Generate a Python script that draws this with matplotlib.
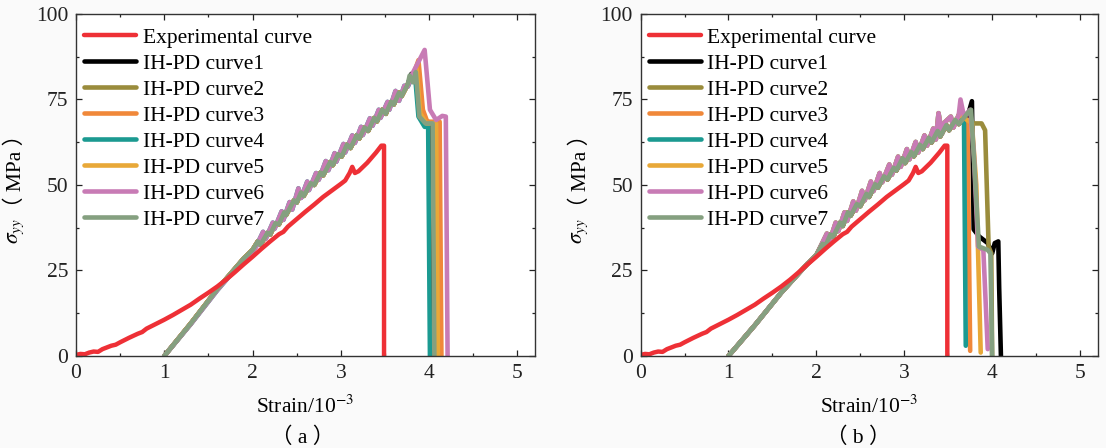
import numpy as np
import matplotlib
matplotlib.use('Agg')
import matplotlib.pyplot as plt
from matplotlib.ticker import MultipleLocator

plt.rcParams['font.family'] = ['Liberation Serif', 'Noto Sans CJK TC']
plt.rcParams['mathtext.fontset'] = 'stix'

# experimental curve (same test in both panels)
exp_s = [0, 0.05, 0.1, 0.15, 0.2, 0.25, 0.3, 0.4, 0.45, 0.5, 0.6, 0.7, 0.75, 0.8, 0.9, 1.0, 1.1, 1.2,
         1.3, 1.4, 1.5, 1.6, 1.7, 1.8, 1.9, 2.0, 2.1, 2.2, 2.3, 2.35, 2.4, 2.5, 2.6, 2.7,
         2.8, 2.9, 3.0, 3.05, 3.1, 3.13, 3.16, 3.2, 3.3, 3.4, 3.46, 3.49, 3.49]
exp_v = [0.3, 0.6, 0.5, 1.0, 1.3, 1.2, 2.0, 3.0, 3.3, 4.0, 5.3, 6.5, 7.0, 8.0, 9.3, 10.6, 12.0, 13.5,
         15.0, 16.8, 18.5, 20.3, 22.3, 24.5, 26.8, 29.0, 31.3, 33.5, 35.6, 36.3, 37.8, 40.0, 42.2, 44.3,
         46.5, 48.4, 50.3, 51.3, 53.5, 55.3, 53.5, 54.0, 56.5, 59.5, 61.5, 61.5, 0]

# IH-PD loading branches, panel (a)
rise_a_s = [1.0, 1.3, 1.6, 1.9, 2.0, 2.06, 2.09, 2.17, 2.20, 2.26, 2.30, 2.36, 2.38, 2.47, 2.50,
            2.55, 2.58, 2.66, 2.70, 2.77, 2.80, 2.88, 2.91, 2.97, 3.01, 3.07, 3.11, 3.18, 3.21,
            3.27, 3.31, 3.38, 3.41, 3.47, 3.51, 3.57, 3.60, 3.66, 3.69, 3.76]
rise_a_v = [0, 9.5, 19.5, 28.5, 31, 33.5, 32.5, 36, 35.5, 38.8, 38.5, 42, 41.2, 45.5, 44.8,
            47.8, 46.8, 50.5, 50, 53.6, 52.8, 56.7, 55.8, 59, 58.3, 61.8, 60.8, 64.5, 63.6,
            66.8, 65.8, 69.6, 68.6, 72, 70.8, 74.3, 73.5, 77, 76, 79.5]
rise_a2_s = [1.0, 1.3, 1.6, 1.9, 2.0, 2.04, 2.12, 2.15, 2.23, 2.25, 2.33, 2.35, 2.42, 2.45, 2.52,
             2.55, 2.62, 2.64, 2.72, 2.75, 2.83, 2.86, 2.93, 2.95, 3.03, 3.05, 3.13, 3.16, 3.23,
             3.25, 3.33, 3.36, 3.43, 3.45, 3.53, 3.55, 3.62, 3.66, 3.72, 3.76]
rise_a2_v = [0, 9.3, 19.2, 28.2, 30.6, 32, 36.3, 34.3, 39, 37.2, 42.3, 39.8, 45, 42.8, 49,
             46.2, 51, 48.5, 53.5, 51.5, 57, 54.3, 59.3, 56.8, 62, 59.5, 64.5, 62.3, 67,
             64.6, 69.5, 67.3, 72, 69.6, 74.3, 72, 77.5, 74.6, 79, 78.8]
pick_a = [0, 0, 0, 1, 0, 1, 0]   # which loading branch each curve follows

# post-peak parts, panel (a)
tail_a_s = [[3.80, 3.84, 3.87, 3.91, 4.00, 4.03, 4.04],
            [3.80, 3.85, 3.88, 3.92, 4.05, 4.07, 4.08],
            [3.82, 3.88, 3.93, 3.98, 4.12, 4.14],
            [3.80, 3.84, 3.88, 3.95, 3.99, 4.01],
            [3.81, 3.86, 3.90, 3.97, 4.08, 4.10],
            [3.80, 3.85, 3.95, 4.01, 4.08, 4.15, 4.19, 4.21],
            [3.78, 3.82, 3.85, 3.89, 3.96, 4.04, 4.06]]
tail_a_v = [[82.5, 80.5, 83, 70, 68, 68, 0],
            [81, 83, 80, 69, 68, 68, 0],
            [82, 86.5, 72, 68.5, 68.5, 0],
            [81, 82.5, 70, 67, 67, 0],
            [82, 84, 71, 68, 68, 0],
            [82, 84.5, 89.5, 72, 69, 70.2, 70, 0],
            [82, 80, 83, 70, 68, 68, 0]]

# IH-PD loading branches, panel (b)
rise_b_s = [1.0, 1.3, 1.6, 1.9, 2.0, 2.07, 2.10, 2.16, 2.19, 2.27, 2.30, 2.36, 2.39, 2.46, 2.50,
            2.57, 2.60, 2.67, 2.70, 2.77, 2.81, 2.88, 2.91, 2.98, 3.01, 3.08, 3.11, 3.18, 3.21,
            3.28, 3.31, 3.38, 3.41, 3.48, 3.51, 3.58, 3.62, 3.66]
rise_b_v = [0, 9, 18.5, 27, 29.5, 32.8, 32, 35.5, 34.8, 39, 38, 42, 41, 44.4, 43.8,
            47.4, 46.5, 50.2, 49.2, 52.5, 51.6, 55, 54.2, 57.8, 56.4, 59.6, 58.4, 61.7, 60.5,
            63.8, 62.4, 65.8, 64.2, 67.5, 66, 69, 67.8, 69]
rise_b2_s = [1.0, 1.3, 1.6, 1.9, 2.0, 2.12, 2.15, 2.22, 2.25, 2.32, 2.35, 2.42, 2.45, 2.52, 2.55,
             2.62, 2.65, 2.72, 2.75, 2.83, 2.86, 2.93, 2.96, 3.03, 3.06, 3.13, 3.16, 3.23, 3.26,
             3.33, 3.36, 3.39, 3.43, 3.46, 3.53, 3.56, 3.62]
rise_b2_v = [0, 9, 18.5, 27, 29.5, 35.8, 33.5, 39, 36.5, 42, 39.5, 45.2, 42.5, 48.3, 45.5,
             51, 48.2, 53.5, 50.8, 56, 53, 58.3, 55.3, 60.5, 57.5, 62.6, 59.5, 64.5, 61.5,
             66.5, 63.3, 71, 65, 68.3, 70, 66.8, 70.5]
pick_b = [0, 0, 0, 1, 1, 1, 0]

tail_b_s = [[3.72, 3.77, 3.79, 3.85, 3.95, 4.00, 4.03, 4.07, 4.08, 4.10],
            [3.72, 3.80, 3.88, 3.92, 3.96, 3.99, 4.00],
            [3.70, 3.72, 3.75],
            [3.68, 3.70],
            [3.72, 3.77, 3.82, 3.87],
            [3.64, 3.68, 3.75, 3.79, 3.84, 3.90, 3.95],
            [3.72, 3.76, 3.80, 3.85, 3.95, 3.98, 4.00]]
tail_b_v = [[70, 74.5, 37, 35, 33, 30, 33, 33.5, 20, 0],
            [69, 68, 68, 66, 32, 30, 0],
            [69, 68, 1.5],
            [68, 3],
            [69, 68, 50, 1],
            [75, 70, 72, 60, 32, 31, 2],
            [71, 72, 55, 32, 31, 30, 0]]

labels = ['IH-PD curve1', 'IH-PD curve2', 'IH-PD curve3', 'IH-PD curve4',
          'IH-PD curve5', 'IH-PD curve6', 'IH-PD curve7']
colors = ['#000000', '#9a8c3c', '#f0883a', '#1b9a91', '#e8a838', '#c87bb5', '#85a080']
exp_color = '#ee3036'

fs = 15.5
fig = plt.figure(figsize=(11.06, 4.48), dpi=100, facecolor='#fafafa')
ax_a = fig.add_axes([0.0687, 0.2054, 0.415, 0.7634])
ax_b = fig.add_axes([0.5792, 0.2054, 0.4132, 0.7634])

# (axes, loading branches, branch choice, tails, caption, caption x px, ylabel x px)
panels = [(ax_a, [(rise_a_s, rise_a_v), (rise_a2_s, rise_a2_v)], pick_a, tail_a_s, tail_a_v,
           '（ a ）', 303, 16),
          (ax_b, [(rise_b_s, rise_b_v), (rise_b2_s, rise_b2_v)], pick_b, tail_b_s, tail_b_v,
           '（ b ）', 858, 580.6)]

for ax, rises, pick, ts, tv, cap, cx, lx in panels:
    handles = []
    for i in range(7):
        rs, rv = rises[pick[i]]
        h, = ax.plot(rs + ts[i], rv + tv[i], color=colors[i], lw=3.3, label=labels[i],
                     solid_joinstyle='round', solid_capstyle='round')
        handles.append(h)
    he, = ax.plot(exp_s, exp_v, color=exp_color, lw=3.2, label='Experimental curve',
                  solid_joinstyle='round', solid_capstyle='round')
    handles = [he] + handles

    ax.set_xlim(0, 5.2)
    ax.set_ylim(0, 100)
    ax.xaxis.set_major_locator(MultipleLocator(1))
    ax.xaxis.set_minor_locator(MultipleLocator(0.5))
    ax.yaxis.set_major_locator(MultipleLocator(25))
    ax.yaxis.set_minor_locator(MultipleLocator(12.5))
    ax.tick_params(which='both', direction='in', top=True, right=True,
                   labelsize=fs, colors='#222222', width=0.9)
    ax.tick_params(which='major', length=4, pad=5.5)
    ax.tick_params(which='minor', length=2.5)
    for sp in ax.spines.values():
        sp.set_color('#333333')
        sp.set_linewidth(1.0)

    ax.set_xlabel('Strain/10$^{-3}$', fontsize=fs, labelpad=9)

    # y label in two parts so the full-width brackets can use the CJK font
    fig.text(lx / 1106, 1 - 218.5 / 448, '$\\sigma_{yy}$', fontsize=fs, rotation=90,
             ha='center', va='top')
    fig.text(lx / 1106, 1 - 217.5 / 448, '（ MPa ）', fontsize=fs, rotation=90,
             ha='center', va='bottom')

    ax.legend(handles=handles, loc='upper left', bbox_to_anchor=(0, 0.9825),
              frameon=False, fontsize=fs,
              handlelength=2.42, handletextpad=0.3, labelspacing=0.275,
              borderaxespad=0.2, borderpad=0.17)

    fig.text(cx / 1106, 1 - 438 / 448, cap, fontsize=fs, ha='center', va='center')

fig.savefig('out.png', dpi=100, facecolor=fig.get_facecolor())
